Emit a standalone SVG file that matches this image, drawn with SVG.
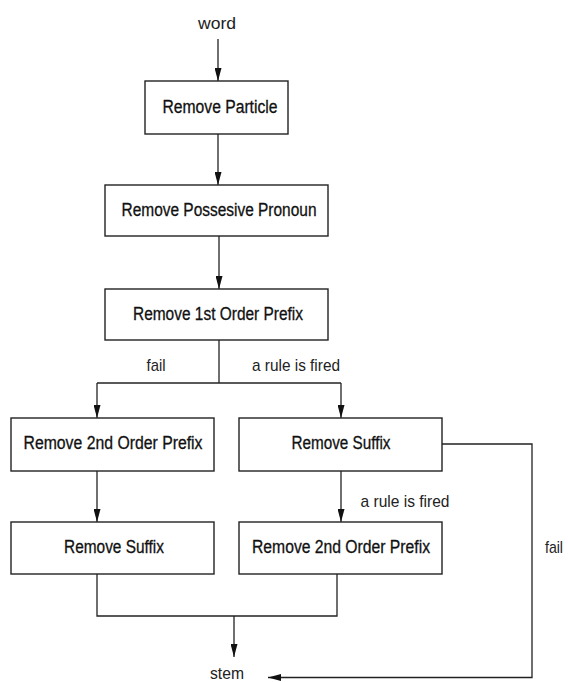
<svg xmlns="http://www.w3.org/2000/svg" width="568" height="682" viewBox="0 0 568 682">
<style>
.box{fill:#fff;stroke:#222;stroke-width:1.4}
.lbl{font-family:"Liberation Sans",Arial,sans-serif;font-size:18px;fill:#111;stroke:#111;stroke-width:0.3;text-anchor:middle}
.note{font-family:"Liberation Sans",Arial,sans-serif;font-size:17px;fill:#222;text-anchor:middle}
.con{fill:none;stroke:#222;stroke-width:1.3}
</style>
<defs>
<marker id="arr" viewBox="0 0 13 7" refX="13" refY="3.5" markerWidth="13" markerHeight="7" markerUnits="userSpaceOnUse" orient="auto">
<path d="M0,0 L13,3.5 L0,7 Z" fill="#111"/>
</marker>
</defs>
<rect width="568" height="682" fill="#fff"/>
<g id="connectors">
<line class="con" x1="218" y1="39" x2="218" y2="81" marker-end="url(#arr)"/>
<line class="con" x1="218" y1="134" x2="218" y2="185" marker-end="url(#arr)"/>
<line class="con" x1="219" y1="236" x2="219" y2="289" marker-end="url(#arr)"/>
<line class="con" x1="219" y1="340" x2="219" y2="383"/>
<line class="con" x1="97" y1="383" x2="341" y2="383"/>
<line class="con" x1="97" y1="383" x2="97" y2="418" marker-end="url(#arr)"/>
<line class="con" x1="341" y1="383" x2="341" y2="418" marker-end="url(#arr)"/>
<line class="con" x1="97" y1="471" x2="97" y2="522" marker-end="url(#arr)"/>
<line class="con" x1="341" y1="471" x2="341" y2="522" marker-end="url(#arr)"/>
<polyline class="con" points="97,574 97,616 337,616 337,574"/>
<line class="con" x1="234" y1="616" x2="234" y2="657" marker-end="url(#arr)"/>
<polyline class="con" points="442,444 532,444 532,677.5 268,677.5" marker-end="url(#arr)"/>
<text class="note" x="156" y="371" textLength="19" lengthAdjust="spacingAndGlyphs">fail</text>
<text class="note" x="296" y="371" textLength="88" lengthAdjust="spacingAndGlyphs">a rule is fired</text>
<text class="note" x="405" y="507" textLength="89" lengthAdjust="spacingAndGlyphs">a rule is fired</text>
<text class="note" x="554" y="553" textLength="18" lengthAdjust="spacingAndGlyphs">fail</text>
</g>
<g id="word"><text class="note" x="217" y="29" textLength="38" lengthAdjust="spacingAndGlyphs">word</text></g>
<g id="n1"><rect class="box" x="145" y="81" width="143" height="53"/><text class="lbl" x="220" y="113" textLength="115" lengthAdjust="spacingAndGlyphs">Remove Particle</text></g>
<g id="n2"><rect class="box" x="105" y="185" width="223" height="51"/><text class="lbl" x="219" y="216" textLength="195" lengthAdjust="spacingAndGlyphs">Remove Possesive Pronoun</text></g>
<g id="n3"><rect class="box" x="105" y="289" width="223" height="51"/><text class="lbl" x="218" y="320" textLength="170" lengthAdjust="spacingAndGlyphs">Remove 1st Order Prefix</text></g>
<g id="n4"><rect class="box" x="11" y="418" width="203" height="53"/><text class="lbl" x="113" y="449" textLength="179" lengthAdjust="spacingAndGlyphs">Remove 2nd Order Prefix</text></g>
<g id="n5"><rect class="box" x="239" y="418" width="203" height="53"/><text class="lbl" x="341" y="449" textLength="99" lengthAdjust="spacingAndGlyphs">Remove Suffix</text></g>
<g id="n6"><rect class="box" x="11" y="522" width="203" height="52"/><text class="lbl" x="114" y="553" textLength="100" lengthAdjust="spacingAndGlyphs">Remove Suffix</text></g>
<g id="n7"><rect class="box" x="239" y="522" width="203" height="52"/><text class="lbl" x="341" y="553" textLength="178" lengthAdjust="spacingAndGlyphs">Remove 2nd Order Prefix</text></g>
<g id="stem"><text class="note" x="227" y="679" textLength="34" lengthAdjust="spacingAndGlyphs">stem</text></g>
</svg>
